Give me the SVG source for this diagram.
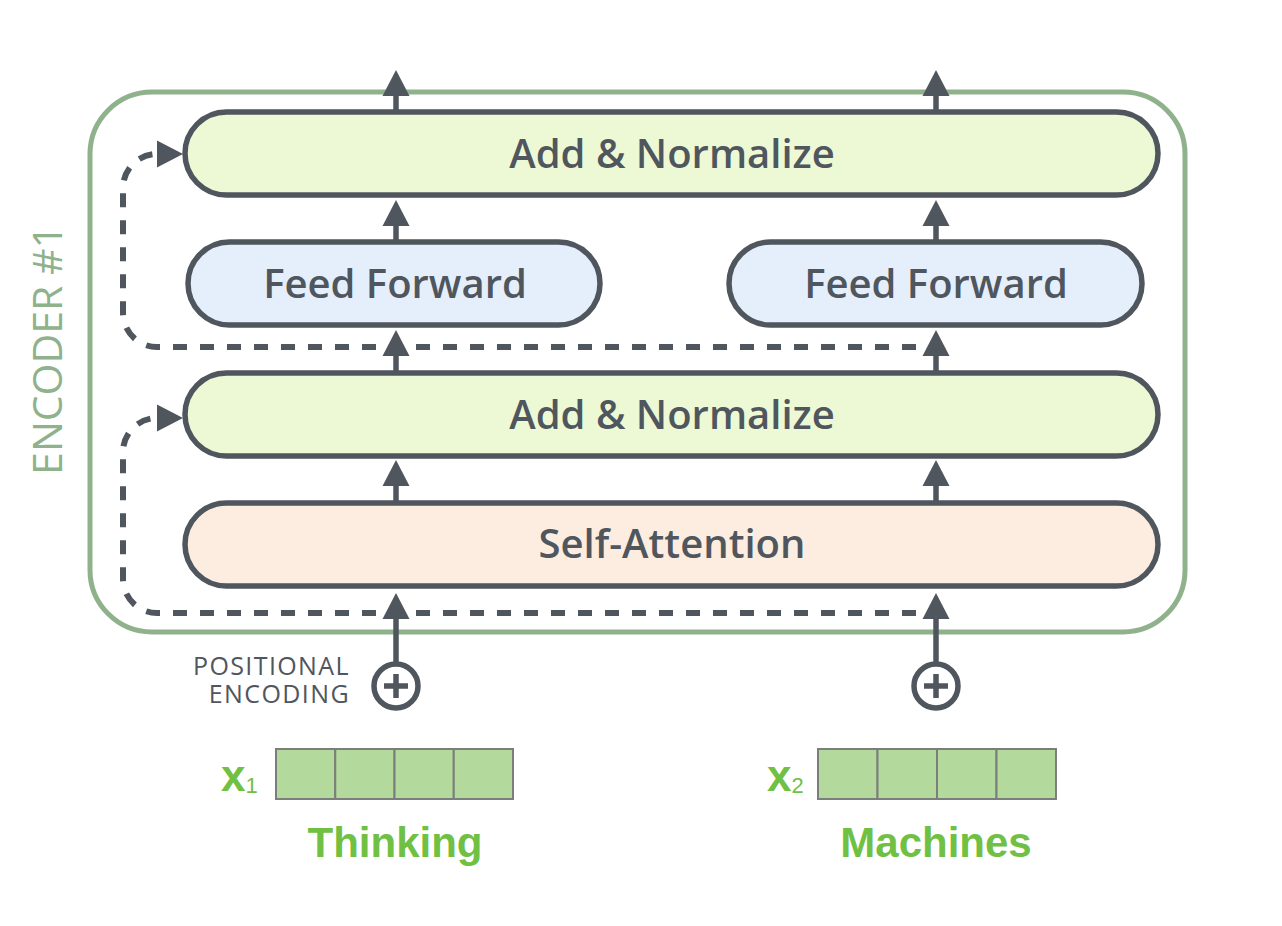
<svg xmlns="http://www.w3.org/2000/svg" width="1282" height="926" viewBox="0 0 1282 926">
  <defs>
    <marker id="ah" markerUnits="userSpaceOnUse" markerWidth="26" markerHeight="28" refX="0" refY="14" orient="auto" viewBox="0 0 26 28">
      <path d="M0,0.5 L26,14 L0,27.5 Z" fill="#50565d"/>
    </marker>
    <style>
      .box { stroke: #50565d; stroke-width: 5.5; }
      .an { fill: #edf9d5; }
      .ff { fill: #e5effb; }
      .sa { fill: #fcede0; }
      .lbl { font-family: "Open Sans", "Noto Sans", "DejaVu Sans", sans-serif; font-size: 40px; font-weight: 600; fill: #50565d; text-anchor: middle; }
      .arrow { stroke: #50565d; stroke-width: 5.5; fill: none; marker-end: url(#ah); }
      .dash { stroke: #50565d; stroke-width: 6; fill: none; stroke-dasharray: 14 13; marker-end: url(#ah); }
      .cell { fill: #b3d99c; stroke: #7b7f7b; stroke-width: 2; }
      .word { font-family: "Liberation Sans", Arial, sans-serif; font-weight: bold; fill: #70c044; }
      .pos { font-family: "Open Sans", "Noto Sans", sans-serif; font-size: 25px; letter-spacing: 1.4px; fill: #50565d; text-anchor: end; }
      .plus { stroke: #50565d; stroke-width: 5.5; fill: #ffffff; }
    </style>
  </defs>
  <rect width="1282" height="926" fill="#ffffff"/>

  <g id="encoder">
    <rect x="90" y="92" width="1095" height="540" rx="62" fill="#ffffff" stroke="#8fb18c" stroke-width="5"/>
    <text transform="translate(62,350) rotate(-90)" font-family="'Open Sans', 'Noto Sans', sans-serif" font-size="41" fill="#8fb18c" text-anchor="middle">ENCODER #1</text>
  </g>

  <g id="connectors">
    <path class="dash" d="M916 613 H157 A34 34 0 0 1 123 579 V452 A34 34 0 0 1 157 418"/>
    <path class="dash" d="M916 347 H157 A34 34 0 0 1 123 313 V188 A34 34 0 0 1 157 154"/>
    <line class="arrow" x1="396" y1="112" x2="396" y2="96"/>
    <line class="arrow" x1="936" y1="112" x2="936" y2="96"/>
    <line class="arrow" x1="396" y1="242" x2="396" y2="226"/>
    <line class="arrow" x1="936" y1="242" x2="936" y2="226"/>
    <line class="arrow" x1="396" y1="373" x2="396" y2="356"/>
    <line class="arrow" x1="936" y1="373" x2="936" y2="356"/>
    <line class="arrow" x1="396" y1="502" x2="396" y2="486"/>
    <line class="arrow" x1="936" y1="502" x2="936" y2="486"/>
    <line class="arrow" x1="396" y1="664" x2="396" y2="619"/>
    <line class="arrow" x1="936" y1="664" x2="936" y2="619"/>
  </g>

  <g id="add-normalize-2">
    <rect class="box an" x="185" y="112" width="973" height="83" rx="41.5"/>
    <text class="lbl" x="672" y="168">Add &amp; Normalize</text>
  </g>
  <g id="feed-forward-1">
    <rect class="box ff" x="188" y="242" width="412" height="83" rx="41.5"/>
    <text class="lbl" x="395" y="298">Feed Forward</text>
  </g>
  <g id="feed-forward-2">
    <rect class="box ff" x="729" y="242" width="413" height="83" rx="41.5"/>
    <text class="lbl" x="936" y="298">Feed Forward</text>
  </g>
  <g id="add-normalize-1">
    <rect class="box an" x="185" y="373" width="973" height="83" rx="41.5"/>
    <text class="lbl" x="672" y="429">Add &amp; Normalize</text>
  </g>
  <g id="self-attention">
    <rect class="box sa" x="185" y="503" width="973" height="83" rx="41.5"/>
    <text class="lbl" x="672" y="558">Self-Attention</text>
  </g>

  <g id="positional-encoding-1">
    <text class="pos" x="350" y="675">POSITIONAL</text>
    <text class="pos" x="350" y="703">ENCODING</text>
    <circle class="plus" cx="396" cy="686" r="22"/>
    <path d="M384 686 H408 M396 674 V698" stroke="#50565d" stroke-width="5.5"/>
  </g>
  <g id="positional-encoding-2">
    <circle class="plus" cx="936" cy="686" r="22"/>
    <path d="M924 686 H948 M936 674 V698" stroke="#50565d" stroke-width="5.5"/>
  </g>

  <g id="input-thinking">
    <text class="word" x="221" y="791" font-size="44">x<tspan font-size="22" font-weight="normal" dy="2">1</tspan></text>
    <rect class="cell" x="276" y="749" width="59.25" height="50"/>
    <rect class="cell" x="335.25" y="749" width="59.25" height="50"/>
    <rect class="cell" x="394.5" y="749" width="59.25" height="50"/>
    <rect class="cell" x="453.75" y="749" width="59.25" height="50"/>
    <text class="word" x="395" y="857" font-size="42" text-anchor="middle">Thinking</text>
  </g>
  <g id="input-machines">
    <text class="word" x="767" y="791" font-size="44">x<tspan font-size="22" font-weight="normal" dy="2">2</tspan></text>
    <rect class="cell" x="818" y="749" width="59.5" height="50"/>
    <rect class="cell" x="877.5" y="749" width="59.5" height="50"/>
    <rect class="cell" x="937" y="749" width="59.5" height="50"/>
    <rect class="cell" x="996.5" y="749" width="59.5" height="50"/>
    <text class="word" x="936" y="857" font-size="42" text-anchor="middle">Machines</text>
  </g>
</svg>
